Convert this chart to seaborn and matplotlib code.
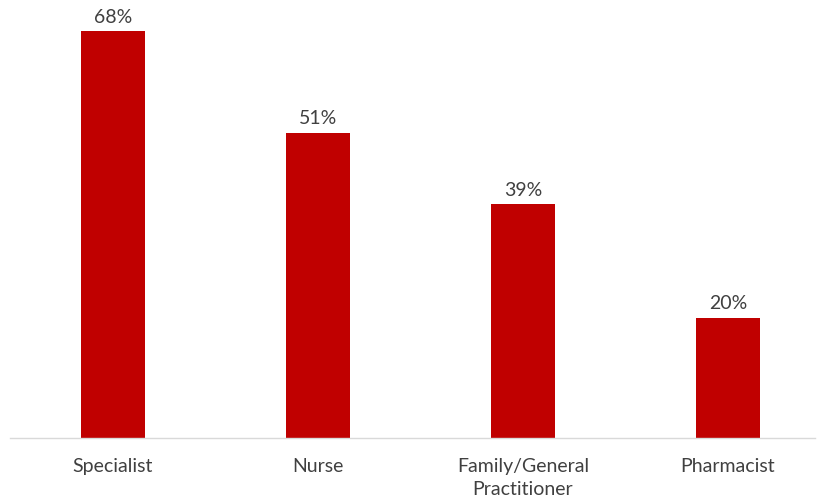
import matplotlib
matplotlib.use("Agg")
import matplotlib.pyplot as plt
import seaborn as sns
import pandas as pd

categories = ["Specialist", "Nurse", "Family/General\nPractitioner", "Pharmacist"]
values = [68, 51, 39, 20]

sns.set_theme(style="white")
plt.rcParams["font.family"] = ["Lato", "DejaVu Sans"]

df = pd.DataFrame({"role": categories, "share": values})

fig = plt.figure(figsize=(8.18, 5.01), dpi=100)
ax = fig.add_axes([10 / 818, 63.5 / 501, 805 / 818, 437.5 / 501])

sns.barplot(data=df, x="role", y="share", color="#C00000", saturation=1,
            width=0.312, linewidth=0, ax=ax)

ax.set_xlim(-0.502, 3.424)
ax.set_ylim(0, 73.2)

for i, v in enumerate(values):
    ax.annotate(f"{v}%", (i, v), xytext=(0, 4), textcoords="offset points",
                ha="center", va="bottom", fontsize=14, color="#404040")

ax.set_xlabel("")
ax.set_ylabel("")
ax.set_yticks([])
ax.tick_params(axis="x", length=0, pad=14.5, labelsize=14, colors="#404040")
for lbl in ax.get_xticklabels():
    lbl.set_linespacing(1.45)

for side in ["top", "right", "left"]:
    ax.spines[side].set_visible(False)
ax.spines["bottom"].set_color("#D9D9D9")
ax.spines["bottom"].set_linewidth(1)

fig.savefig("out.png", dpi=100)
